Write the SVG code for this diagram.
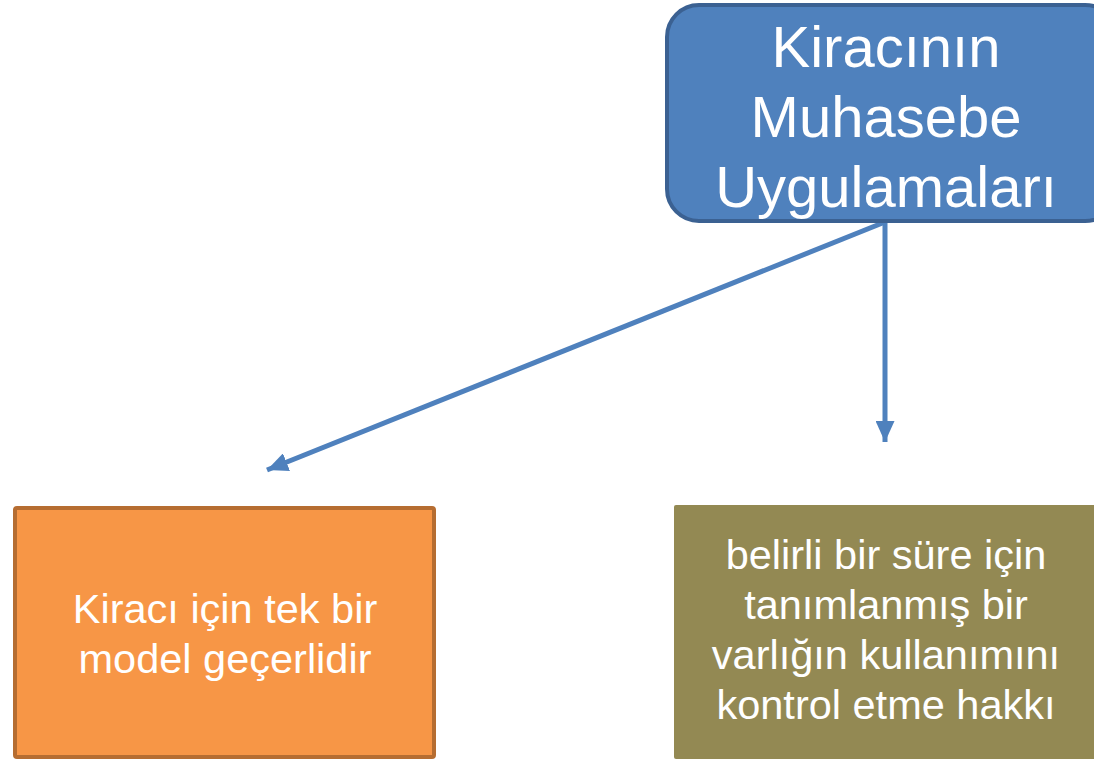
<svg xmlns="http://www.w3.org/2000/svg" width="1094" height="761" viewBox="0 0 1094 761">
<style>
.t{font-family:"Liberation Sans",Arial,sans-serif;fill:#fff;text-anchor:middle}
.big{font-size:58px}
.sm{font-size:41.5px}
.conn{stroke:#4F81BD;stroke-width:5;fill:none}
</style>
<defs>
<marker id="ah" viewBox="0 0 10 10" refX="10" refY="5" markerWidth="4.2" markerHeight="3.8" orient="auto" markerUnits="strokeWidth" preserveAspectRatio="none">
<path d="M0,0 L10,5 L0,10 Z" fill="#4F81BD"/>
</marker>
</defs>
<rect width="1094" height="761" fill="#fff"/>
<g id="connectors">
<line class="conn" x1="885" y1="222" x2="267" y2="470" marker-end="url(#ah)"/>
<line class="conn" x1="885" y1="222" x2="885" y2="442" marker-end="url(#ah)"/>
</g>
<g id="top">
<rect x="667" y="5" width="450" height="216" rx="32" fill="#4F81BD" stroke="#3B6192" stroke-width="4"/>
<text class="t big" x="886" y="67">Kiracının</text>
<text class="t big" x="886" y="137">Muhasebe</text>
<text class="t big" x="886" y="207">Uygulamaları</text>
</g>
<g id="left">
<rect x="15" y="508" width="419" height="249" rx="2" fill="#F79646" stroke="#B66D31" stroke-width="4"/>
<text class="t sm" x="225" y="623">Kiracı için tek bir</text>
<text class="t sm" x="225" y="673">model geçerlidir</text>
</g>
<g id="right">
<rect x="674" y="505" width="440" height="254" rx="2" fill="#938953"/>
<text class="t sm" x="886" y="569">belirli bir süre için</text>
<text class="t sm" x="886" y="619">tanımlanmış bir</text>
<text class="t sm" x="886" y="669">varlığın kullanımını</text>
<text class="t sm" x="886" y="719">kontrol etme hakkı</text>
</g>
</svg>
